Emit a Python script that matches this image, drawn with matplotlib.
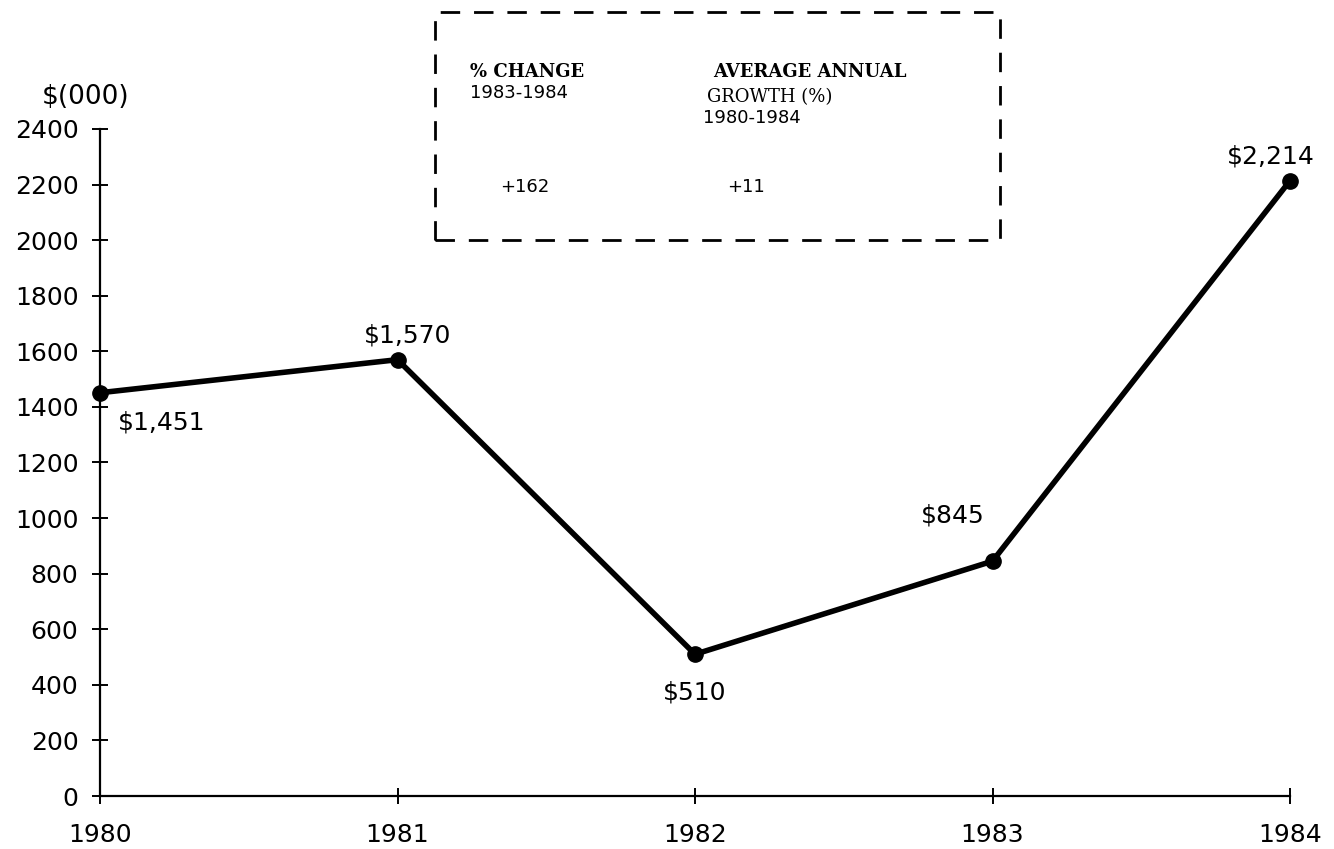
import matplotlib
matplotlib.use("Agg")
import matplotlib.pyplot as plt
from matplotlib.patches import Rectangle

years = [1980, 1981, 1982, 1983, 1984]
values = [1451, 1570, 510, 845, 2214]
labels = ["$1,451", "$1,570", "$510", "$845", "$2,214"]
yticks = [0, 200, 400, 600, 800, 1000, 1200, 1400, 1600, 1800, 2000, 2200, 2400]

W, H = 1334, 849
fig = plt.figure(figsize=(W / 100, H / 100), dpi=100)
ax = fig.add_axes([100 / W, 1 - 796 / H, (1290 - 100) / W, (796 - 129) / H])

ax.plot(years, values, color="black", lw=4, marker="o", ms=11, clip_on=False, zorder=3)

# offsets of the value labels (points)
offs = [(13, -13, "left", "top"), (7, 9, "center", "bottom"), (0, -19, "center", "top"),
        (-6, 24, "right", "bottom"), (-14, 9, "center", "bottom")]
for x, y, s, (dx, dy, ha, va) in zip(years, values, labels, offs):
    ax.annotate(s, (x, y), xytext=(dx, dy), textcoords="offset points",
                ha=ha, va=va, fontsize=18)

ax.set_xlim(1980, 1984)
ax.set_ylim(0, 2400)
ax.set_xticks(years)
ax.set_yticks(yticks)
ax.tick_params(direction="inout", length=11, width=1.4, labelsize=18)
ax.tick_params(axis="y", pad=10)
ax.tick_params(axis="x", pad=14)
for sp in ["top", "right"]:
    ax.spines[sp].set_visible(False)
for sp in ["left", "bottom"]:
    ax.spines[sp].set_linewidth(1.6)

fig.text(42 / W, 1 - 97 / H, "$(000)", fontsize=19, va="center", ha="left")

# dashed summary box
box = Rectangle((435 / W, 1 - 240 / H), (1000 - 435) / W, (240 - 12) / H,
                transform=fig.transFigure, fill=False, ls=(0, (7, 5)), lw=2, color="black")
fig.patches.append(box)

def ftxt(x, y, s, **kw):
    fig.text(x / W, 1 - y / H, s, va="center", **kw)

ftxt(470, 72, "% CHANGE", fontsize=13, family="DejaVu Serif", weight="bold")
ftxt(470, 93, "1983-1984", fontsize=13)
ftxt(810, 72, "AVERAGE ANNUAL", fontsize=13, family="DejaVu Serif", weight="bold", ha="center")
ftxt(770, 97, "GROWTH (%)", fontsize=13, family="DejaVu Serif", ha="center")
ftxt(752, 118, "1980-1984", fontsize=13, ha="center")
ftxt(500, 187, "+162", fontsize=13)
ftxt(727, 187, "+11", fontsize=13)

fig.savefig("out.png", dpi=100)
